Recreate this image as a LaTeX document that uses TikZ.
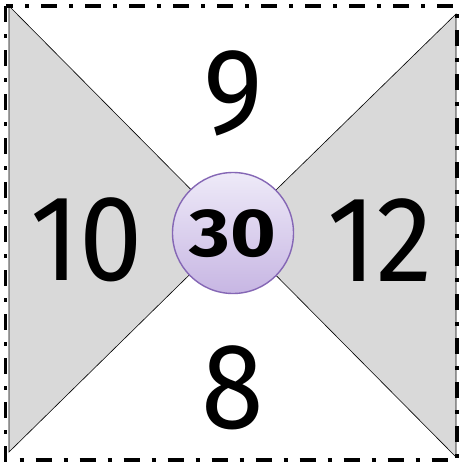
\documentclass[tikz,border=0pt]{standalone}
\usepackage{fontspec}
\setmainfont{Fira Sans}
\usetikzlibrary{shadings}
\definecolor{tri}{HTML}{D9D9D9}
\definecolor{circtop}{HTML}{EEEAF8}
\definecolor{circbot}{HTML}{C7B6E3}
\definecolor{circline}{HTML}{8567B5}
\tikzset{
  frame/.style={line width=3.4pt, dash pattern=on 16pt off 12pt on 4pt off 12pt},
  wedge/.style={fill=tri, draw=black, line width=0.6pt},
  bignum/.style={font=\fontsize{122}{122}\selectfont, inner sep=0pt, xscale=0.93, transform shape},
  hub/.style={circle, minimum size=121pt, inner sep=0pt, top color=circtop, bottom color=circbot, draw=circline, line width=1.4pt}
}
\begin{document}
\begin{tikzpicture}[x=1pt,y=-1pt]
\useasboundingbox (0,0) rectangle (459,463);
\coordinate (tl) at (9,6);
\coordinate (bl) at (9,452);
\coordinate (tr) at (456,14);
\coordinate (br) at (456,457);
\coordinate (c) at (233,232);
\fill[white] (9,6) rectangle (456,457);
\draw[wedge] (tl) -- (bl) -- (c) -- cycle;
\draw[wedge] (tr) -- (br) -- (c) -- cycle;
\draw[frame] (5.5,6) rectangle (457,460);
\node[hub] (hub) at (233,233) {};
\node[font=\fontsize{68}{68}\selectfont\bfseries, inner sep=0pt, xscale=1.15, transform shape] (thirty) at (233,234) {30};
\node[bignum] (nine) at (233,93) {9};
\node[bignum] (eight) at (233,388) {8};
\node[bignum] (ten) at (87,240) {10};
\node[bignum] (twelve) at (380,240) {12};
\end{tikzpicture}
\end{document}
